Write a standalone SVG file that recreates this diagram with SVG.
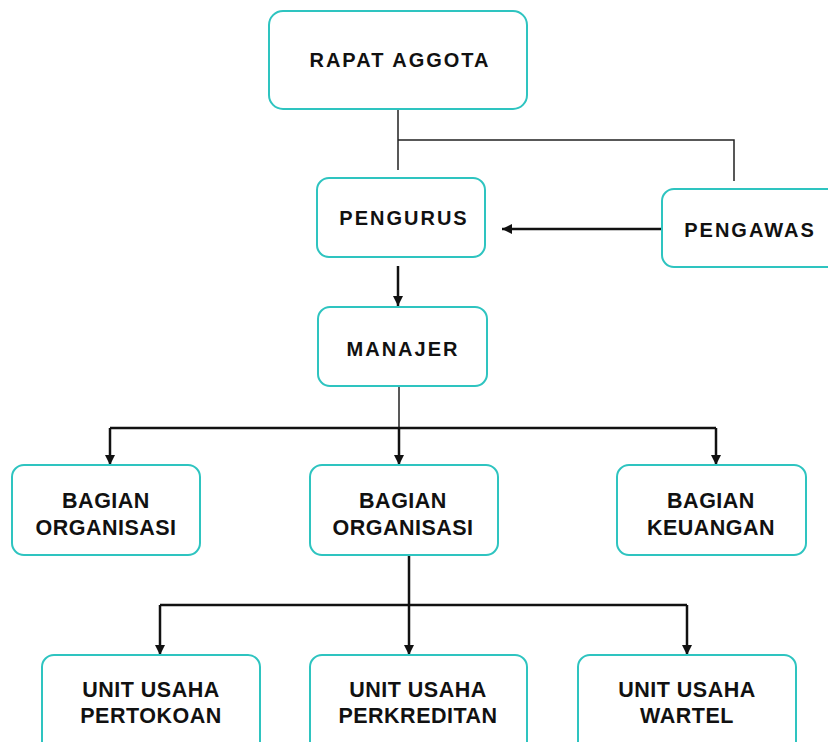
<svg xmlns="http://www.w3.org/2000/svg" width="828" height="742" viewBox="0 0 828 742">
<style>
.box{fill:#fff;stroke:#2ec4c0;stroke-width:2}
.t{font-family:"Liberation Sans",Arial,sans-serif;font-weight:bold;font-size:21.5px;letter-spacing:0.5px;fill:#111;text-anchor:middle}
.s{font-size:20px;letter-spacing:2px}
.ln{fill:none;stroke:#111;stroke-width:2.5}
.thin{fill:none;stroke:#222;stroke-width:1.5}
</style>
<defs>
<marker id="ah" viewBox="0 0 10 10" refX="10" refY="5" markerWidth="4.4" markerHeight="4" orient="auto" markerUnits="strokeWidth">
<path d="M0,0 L10,5 L0,10 z" fill="#111"/>
</marker>
</defs>
<rect width="828" height="742" fill="#fff"/>
<g id="connectors">
<path class="thin" d="M398,109 V170 M398,140 H734 V181"/>
<path class="ln" d="M661,229 H502" marker-end="url(#ah)"/>
<path class="ln" d="M398,266 V306" marker-end="url(#ah)"/>
<path class="thin" d="M399,386 V428"/>
<path class="ln" d="M110,428 H716"/>
<path class="ln" d="M110,428 V465" marker-end="url(#ah)"/>
<path class="ln" d="M399,428 V465" marker-end="url(#ah)"/>
<path class="ln" d="M716,428 V465" marker-end="url(#ah)"/>
<path class="ln" d="M409,555 V605 M160,605 H687"/>
<path class="ln" d="M160,605 V655" marker-end="url(#ah)"/>
<path class="ln" d="M409,605 V655" marker-end="url(#ah)"/>
<path class="ln" d="M687,605 V655" marker-end="url(#ah)"/>
</g>
<g id="rapat"><rect class="box" x="269" y="11" width="258" height="98" rx="14"/><text class="t s" x="400" y="67">RAPAT AGGOTA</text></g>
<g id="pengurus"><rect class="box" x="317" y="178" width="168" height="79" rx="12"/><text class="t s" x="404" y="225">PENGURUS</text></g>
<g id="pengawas"><rect class="box" x="662" y="189" width="180" height="78" rx="12"/><text class="t s" x="750" y="237">PENGAWAS</text></g>
<g id="manajer"><rect class="box" x="318" y="307" width="169" height="79" rx="12"/><text class="t s" x="403" y="356">MANAJER</text></g>
<g id="bagian1"><rect class="box" x="12" y="465" width="188" height="90" rx="12"/><text class="t" x="106" y="508">BAGIAN</text><text class="t" x="106" y="535">ORGANISASI</text></g>
<g id="bagian2"><rect class="box" x="310" y="465" width="188" height="90" rx="12"/><text class="t" x="403" y="508">BAGIAN</text><text class="t" x="403" y="535">ORGANISASI</text></g>
<g id="bagian3"><rect class="box" x="617" y="465" width="189" height="90" rx="12"/><text class="t" x="711" y="508">BAGIAN</text><text class="t" x="711" y="535">KEUANGAN</text></g>
<g id="unit1"><rect class="box" x="42" y="655" width="218" height="100" rx="12"/><text class="t" x="151" y="697">UNIT USAHA</text><text class="t" x="151" y="723">PERTOKOAN</text></g>
<g id="unit2"><rect class="box" x="310" y="655" width="217" height="100" rx="12"/><text class="t" x="418" y="697">UNIT USAHA</text><text class="t" x="418" y="723">PERKREDITAN</text></g>
<g id="unit3"><rect class="box" x="578" y="655" width="218" height="100" rx="12"/><text class="t" x="687" y="697">UNIT USAHA</text><text class="t" x="687" y="723">WARTEL</text></g>
</svg>
